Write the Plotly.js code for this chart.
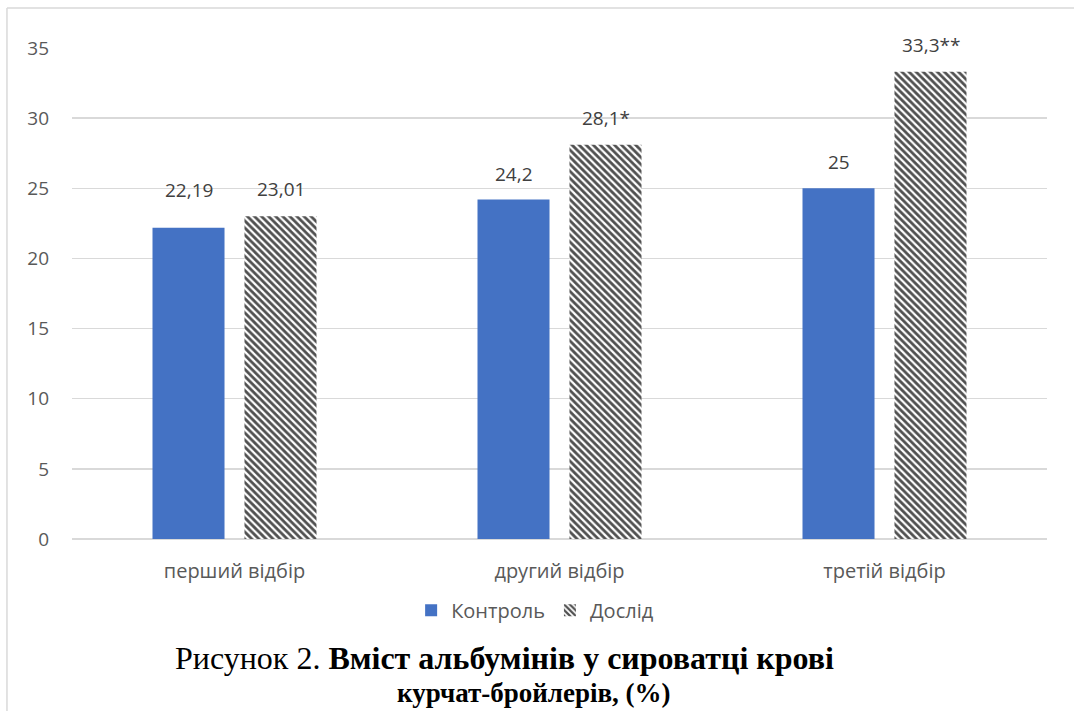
<!DOCTYPE html>
<html>
<head>
<meta charset="utf-8">
<script src="https://cdn.plot.ly/plotly-3.0.1.min.js"></script>
<style>
html,body{margin:0;padding:0;background:#fff;}
#chart{width:1074px;height:711px;}
</style>
</head>
<body>
<div id="chart"></div>
<script>
const categories = ["перший відбір", "другий відбір", "третій відбір"];
const controlValues = [22.19, 24.2, 25];
const controlLabels = ["22,19", "24,2", "25"];
const experimentValues = [23.01, 28.1, 33.3];
const experimentLabels = ["23,01", "28,1*", "33,3**"];
const yTicks = [0, 5, 10, 15, 20, 25, 30, 35];

const sans = "Open Sans, Liberation Sans, sans-serif";
const labelFont = {family: sans, size: 19, color: "#404040"};
// label lift above bar top, pixels (first control label sits a bit higher in the original)
const controlLift = [38, 26, 26];
const experimentLift = [27, 27, 27];

const traces = [
  {
    type: "bar",
    name: "Контроль",
    x: categories,
    y: controlValues,
    marker: {color: "#4472c4"},
    hoverinfo: "skip"
  },
  {
    type: "bar",
    name: "Дослід",
    x: categories,
    y: experimentValues,
    marker: {
      color: "#ffffff",
      pattern: {shape: "\\", fgcolor: "#505050", bgcolor: "#ffffff", size: 5, solidity: 0.55, fillmode: "replace"},
      line: {width: 0}
    },
    hoverinfo: "skip"
  }
];

const annotations = [];
categories.forEach((c, i) => {
  annotations.push({
    xref: "x", yref: "y", x: c, y: controlValues[i], xshift: -46, yshift: controlLift[i],
    xanchor: "center", yanchor: "middle", showarrow: false,
    text: controlLabels[i], font: labelFont
  });
  annotations.push({
    xref: "x", yref: "y", x: c, y: experimentValues[i], xshift: 46, yshift: experimentLift[i],
    xanchor: "center", yanchor: "middle", showarrow: false,
    text: experimentLabels[i], font: labelFont
  });
});
annotations.push({
  xref: "paper", yref: "paper", x: 0.444, y: -0.242, xanchor: "center", yanchor: "middle",
  showarrow: false,
  text: "Рисунок 2. <b>Вміст альбумінів у сироватці крові</b>",
  font: {family: "Liberation Serif, Times New Roman, serif", size: 32, color: "#000000"}
});
annotations.push({
  xref: "paper", yref: "paper", x: 0.474, y: -0.314, xanchor: "center", yanchor: "middle",
  showarrow: false,
  text: "<b>курчат-бройлерів, (%)</b>",
  font: {family: "Liberation Serif, Times New Roman, serif", size: 27, color: "#000000"}
});

const layout = {
  width: 1074,
  height: 711,
  margin: {l: 72, r: 27, t: 48, b: 172},
  paper_bgcolor: "#ffffff",
  plot_bgcolor: "#ffffff",
  barmode: "group",
  bargap: 0.434,
  bargroupgap: 0.217,
  showlegend: true,
  legend: {
    orientation: "h",
    x: 0.475, xanchor: "center",
    y: -0.145, yanchor: "middle",
    font: {family: sans, size: 20, color: "#595959"},
    itemwidth: 30
  },
  xaxis: {
    type: "category",
    tickfont: {family: sans, size: 20, color: "#595959"},
    showline: false,
    ticks: "",
    ticklabelstandoff: 18
  },
  yaxis: {
    range: [0, 35],
    tickvals: yTicks,
    ticktext: yTicks.map(String),
    showgrid: true,
    gridcolor: "#d9d9d9",
    gridwidth: 1.3,
    zeroline: true,
    zerolinecolor: "#d9d9d9",
    zerolinewidth: 1.3,
    showline: false,
    ticks: "",
    tickfont: {family: sans, size: 19, color: "#595959"},
    ticklabelstandoff: 22
  },
  shapes: [
    {type: "line", xref: "paper", yref: "paper", x0: -0.0667, x1: 1.03, y0: 1.0815, y1: 1.0815, line: {color: "#d9d9d9", width: 1.5}},
    {type: "line", xref: "paper", yref: "paper", x0: -0.0667, x1: -0.0667, y0: 1.0815, y1: -0.36, line: {color: "#d9d9d9", width: 1.5}}
  ],
  annotations: annotations
};

Plotly.newPlot("chart", traces, layout, {staticPlot: true, displayModeBar: false});
</script>
</body>
</html>
